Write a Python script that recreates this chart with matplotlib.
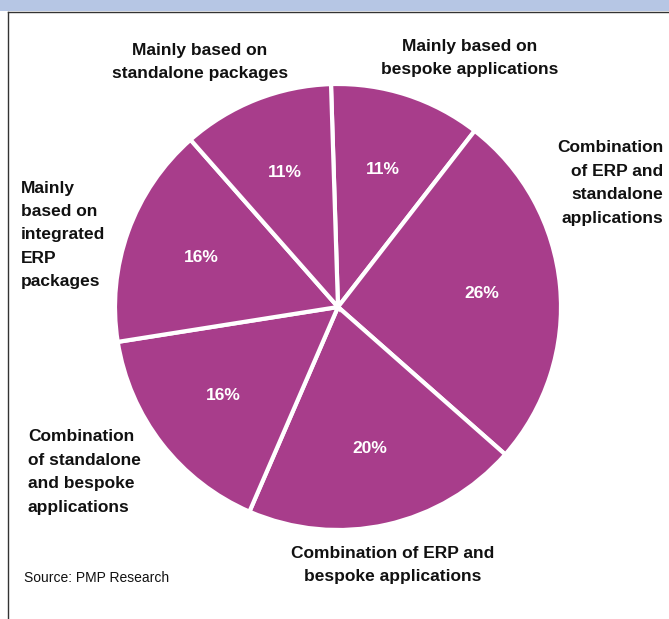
import matplotlib
matplotlib.use("Agg")
import matplotlib.pyplot as plt
from matplotlib import font_manager
from matplotlib.patches import Rectangle
from matplotlib.lines import Line2D

names = {f.name for f in font_manager.fontManager.ttflist}
FONT = "Liberation Sans Narrow" if "Liberation Sans Narrow" in names else "Liberation Sans"
plt.rcParams['font.family'] = [FONT, 'DejaVu Sans']

# Data (clockwise from top)
categories = [
    "Mainly based on\nbespoke applications",
    "Combination\nof ERP and\nstandalone\napplications",
    "Combination of ERP and\nbespoke applications",
    "Combination\nof standalone\nand bespoke\napplications",
    "Mainly\nbased on\nintegrated\nERP\npackages",
    "Mainly based on\nstandalone packages",
]
values = [11, 26, 20, 16, 16, 11]
source = "Source: PMP Research"

W, H = 669, 619
fig = plt.figure(figsize=(W / 100, H / 100), dpi=100)

def px(x, y):
    return x / W, 1 - y / H

# header band and frame
fig.patches.append(Rectangle((0, 1 - 11 / H), 1, 11 / H, transform=fig.transFigure,
                             facecolor="#B6C6E4", edgecolor="none"))
fig.lines.append(Line2D([8 / W, 1], [1 - 12 / H, 1 - 12 / H], transform=fig.transFigure,
                        color="#333333", lw=1.0))
fig.lines.append(Line2D([8 / W, 8 / W], [1 - 12 / H, 0], transform=fig.transFigure,
                        color="#333333", lw=1.0))

# pie axes: centre (338, 307), radius 223 px
cx, cy, r = 338, 307, 223
ax = fig.add_axes([(cx - r) / W, 1 - (cy + r) / H, 2 * r / W, 2 * r / H])
ax.pie(values, startangle=91.8, counterclock=False, colors=["#A83D8B"] * len(values),
       wedgeprops=dict(edgecolor="white", linewidth=3),
       autopct=lambda p: f"{p:.0f}%", pctdistance=0.65,
       textprops=dict(color="white", fontsize=12.5, fontweight="bold"))
ax.set_xlim(-1, 1)
ax.set_ylim(-1, 1)
ax.axis("off")

lab = dict(fontsize=12.5, fontweight="bold", color="#111111", linespacing=1.7)
# label layout positions (pixels)
fig.text(*px(470, 58), categories[0], ha="center", va="center", **lab)
fig.text(*px(663, 183), categories[1], ha="right", va="center", multialignment="right", **lab)
fig.text(*px(393, 565), categories[2], ha="center", va="center", **lab)
fig.text(*px(28, 472), categories[3], ha="left", va="center", **lab)
fig.text(*px(21, 235), categories[4], ha="left", va="center", **lab)
fig.text(*px(200, 62), categories[5], ha="center", va="center", **lab)
fig.text(*px(24, 578), source, ha="left", va="center", fontsize=10, color="#111111")

fig.savefig("out.png", dpi=100)
